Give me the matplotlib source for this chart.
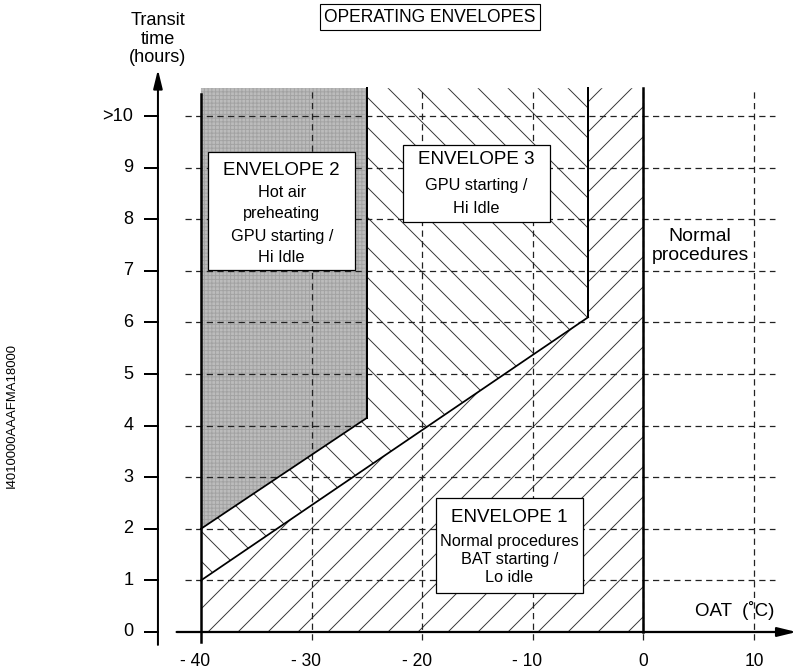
import matplotlib
matplotlib.use('Agg')
import matplotlib.pyplot as plt
from matplotlib.patches import Polygon, Rectangle

plt.rcParams['font.family'] = ['Liberation Sans', 'DejaVu Sans']
plt.rcParams['hatch.linewidth'] = 0.75

# envelope boundaries (OAT in deg C, transit time in hours)
top_hours = 10.54
lower_oat = [-40, -5]
lower_hours = [1.0, 6.1]
upper_oat = [-40, -25]
upper_hours = [2.0, 4.15]
normal_oat = 0

x_ticks = [-40, -30, -20, -10, 0, 10]
x_labels = ['- 40', '- 30', '- 20', '- 10', '0', '10']
y_ticks = [0, 1, 2, 3, 4, 5, 6, 7, 8, 9, 10]
y_labels = ['0', '1', '2', '3', '4', '5', '6', '7', '8', '9', '>10']

DPI = 90
fig = plt.figure(figsize=(797 / DPI, 671 / DPI), dpi=DPI)
ax = fig.add_axes([0, 0, 1, 1])
ax.set_xlim(-58.17, 13.89)
ax.set_ylim(-0.756, 12.25)
ax.axis('off')

x0 = lower_oat[0]
x_mid = upper_oat[1]
x_hi = lower_oat[1]

# envelope 1 : normal procedures
env1 = [(x0, 0), (normal_oat, 0), (normal_oat, top_hours), (x_hi, top_hours),
        (x_hi, lower_hours[1]), (x0, lower_hours[0])]
ax.add_patch(Polygon(env1, closed=True, facecolor='white', edgecolor='#333333',
                     lw=0, hatch='/', zorder=1))
# envelope 3
env3 = [(x0, lower_hours[0]), (x_hi, lower_hours[1]), (x_hi, top_hours),
        (x_mid, top_hours), (x_mid, upper_hours[1]), (x0, upper_hours[0])]
ax.add_patch(Polygon(env3, closed=True, facecolor='white', edgecolor='#333333',
                     lw=0, hatch='\\', zorder=1))
# envelope 2 (shaded)
env2 = [(x0, upper_hours[0]), (x_mid, upper_hours[1]), (x_mid, top_hours), (x0, top_hours)]
ax.add_patch(Polygon(env2, closed=True, facecolor='#bcbcbc', edgecolor='#a2a2a2',
                     lw=0, hatch='++++', zorder=1))

# dashed grid
dash = (0, (5, 3.5))
for y in y_ticks[1:]:
    ax.plot([-41.45, 11.9], [y, y], color='#222222', lw=1.0, linestyle=dash, zorder=2)
for x in x_ticks[1:]:
    ax.plot([x, x], [-0.16, 10.5], color='#222222', lw=1.0, linestyle=dash, zorder=2)

# boundaries
ax.plot(lower_oat, lower_hours, color='black', lw=1.4, zorder=3)
ax.plot(upper_oat, upper_hours, color='black', lw=1.4, zorder=3)
ax.plot([x_mid, x_mid], [upper_hours[1], top_hours], color='black', lw=1.6, zorder=3)
ax.plot([x_hi, x_hi], [lower_hours[1], top_hours], color='black', lw=1.6, zorder=3)
ax.plot([normal_oat, normal_oat], [0, top_hours], color='black', lw=2.0, zorder=3)
ax.plot([x0, x0], [-0.2, top_hours - 0.12], color='black', lw=2.0, zorder=3)

# axes with arrows
ax.annotate('', xy=(13.85, 0), xytext=(-42.2, 0),
            arrowprops=dict(arrowstyle='-|>,head_length=0.9,head_width=0.22',
                            lw=1.8, color='black', mutation_scale=14, shrinkA=0, shrinkB=0),
            zorder=4)
y_ax = -43.89
ax.annotate('', xy=(y_ax, 10.9), xytext=(y_ax, -0.25),
            arrowprops=dict(arrowstyle='-|>,head_length=0.9,head_width=0.22',
                            lw=1.6, color='black', mutation_scale=14, shrinkA=0, shrinkB=0),
            zorder=4)
for y, lab in zip(y_ticks, y_labels):
    ax.plot([-45.1, y_ax], [y, y], color='black', lw=1.6, zorder=4)
    ax.text(-46.1, y, lab, ha='right', va='center', fontsize=14.5)
for x, lab in zip(x_ticks, x_labels):
    ax.text(x - 0.5 if lab.startswith('-') else x, -0.57, lab, ha='center', va='center',
            fontsize=14)

ax.text(y_ax, 11.49, 'Transit\ntime\n(hours)', ha='center', va='center',
        fontsize=14.5, linespacing=1.12)
ax.text(8.3, 0.42, 'OAT  (˚C)', ha='center', va='center', fontsize=15)
ax.text(-19.3, 11.92, 'OPERATING ENVELOPES', ha='center', va='center', fontsize=14,
        bbox=dict(boxstyle='square,pad=0.25', facecolor='white', edgecolor='black', lw=0.9))
ax.text(-57.1, 4.2, 'I4010000AAAFMA18000', rotation=90, ha='center', va='center', fontsize=10.5)

# envelope labels
boxes = [(-39.37, 7.02, 13.29, 2.28), (-21.74, 7.95, 13.3, 1.49), (-18.75, 0.756, 13.29, 1.84)]
for bx, by, bw, bh in boxes:
    ax.add_patch(Rectangle((bx, by), bw, bh, facecolor='white', edgecolor='black',
                           lw=1.0, zorder=5))
labels = [
    (-32.7, [('ENVELOPE 2', 8.95, 15), ('Hot air', 8.51, 13), ('preheating', 8.12, 13),
             ('GPU starting /', 7.67, 13), ('Hi Idle', 7.25, 13)]),
    (-15.09, [('ENVELOPE 3', 9.15, 15), ('GPU starting /', 8.66, 13), ('Hi Idle', 8.2, 13)]),
    (-12.1, [('ENVELOPE 1', 2.21, 15), ('Normal procedures', 1.76, 13),
             ('BAT starting /', 1.4, 13), ('Lo idle', 1.05, 13)]),
    (5.12, [('Normal', 7.67, 15.5), ('procedures', 7.29, 15.5)]),
]
for cx, lines in labels:
    for txt, ty, fs in lines:
        ax.text(cx, ty, txt, ha='center', va='center', fontsize=fs, zorder=6)

fig.savefig('out.png', dpi=DPI)
